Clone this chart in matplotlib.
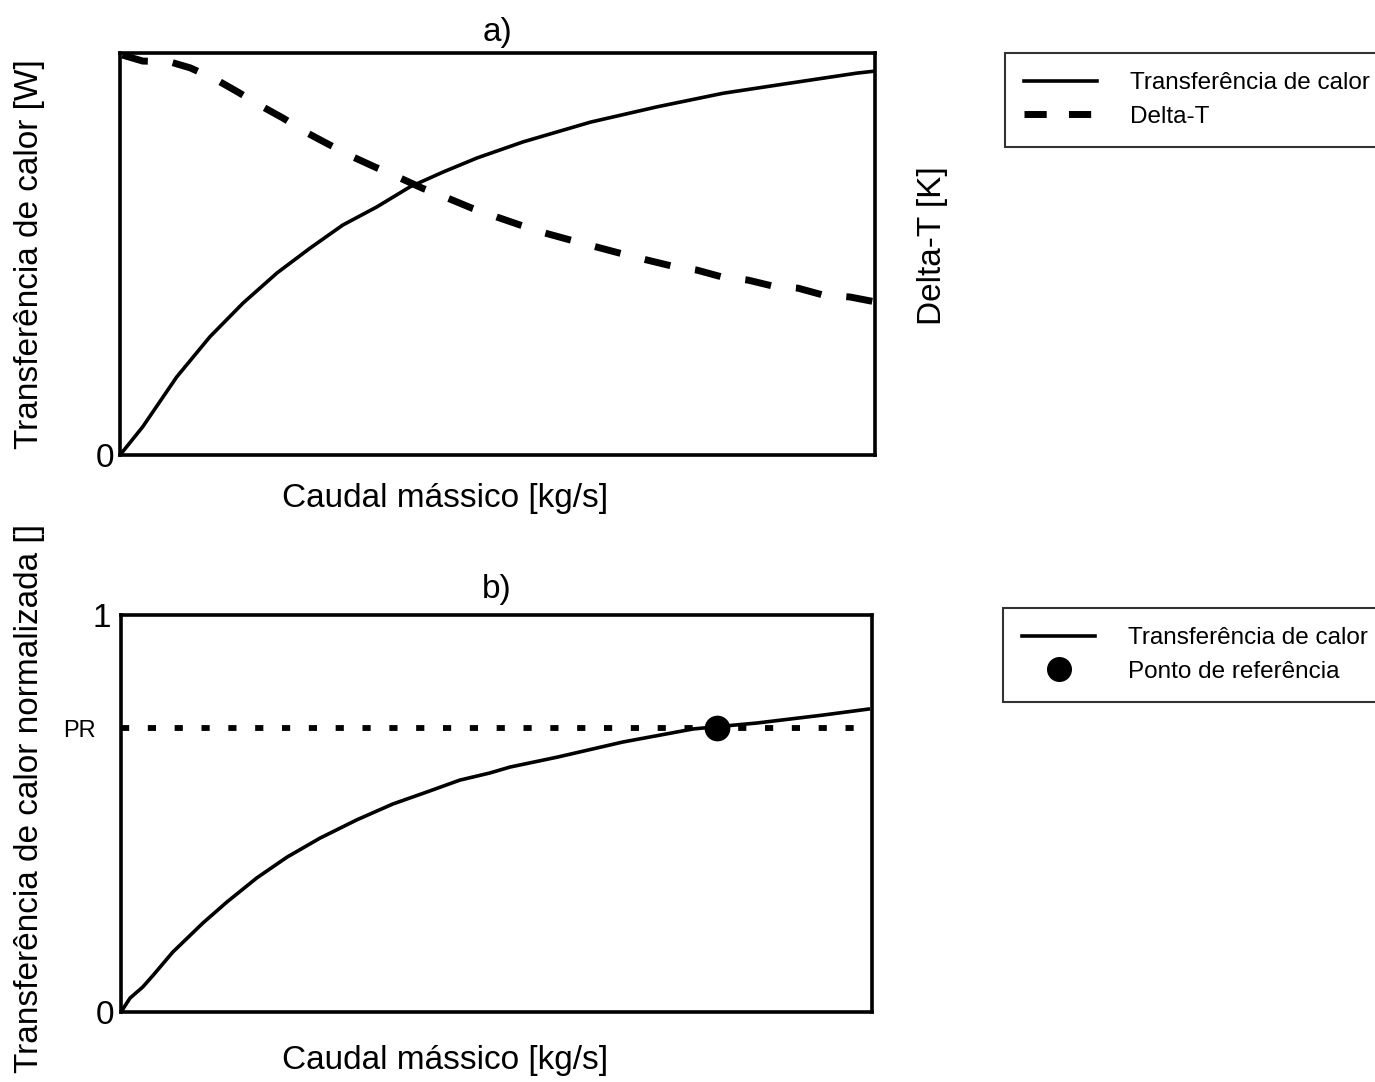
import matplotlib
matplotlib.use("Agg")
import matplotlib.pyplot as plt
from matplotlib.lines import Line2D

plt.rcParams['font.family'] = ['Liberation Sans', 'DejaVu Sans']

# a) heat transfer and temperature difference vs. mass flow (normalised units)
flow_a = [0.0, 0.030, 0.075, 0.119, 0.163, 0.208, 0.252, 0.295, 0.340, 0.384,
          0.428, 0.473, 0.534, 0.623, 0.711, 0.799, 0.887, 0.976, 1.0]
heat_a = [0.0, 0.070, 0.194, 0.294, 0.378, 0.453, 0.515, 0.572, 0.617, 0.667,
          0.704, 0.739, 0.779, 0.828, 0.866, 0.900, 0.925, 0.950, 0.955]

flow_dt = [0.003, 0.030, 0.066, 0.093, 0.128, 0.156, 0.189, 0.216, 0.248, 0.275,
           0.309, 0.338, 0.371, 0.400, 0.434, 0.466, 0.499, 0.530, 0.563, 0.596,
           0.632, 0.662, 0.698, 0.731, 0.764, 0.797, 0.832, 0.865, 0.898, 0.931,
           0.967, 1.0]
delta_t = [0.995, 0.980, 0.978, 0.963, 0.933, 0.903, 0.866, 0.838, 0.801, 0.774,
           0.741, 0.716, 0.689, 0.664, 0.639, 0.614, 0.592, 0.572, 0.552, 0.535,
           0.517, 0.502, 0.485, 0.470, 0.460, 0.443, 0.435, 0.420, 0.415, 0.398,
           0.393, 0.381]

# b) normalised heat transfer with the reference point
flow_b = [0.0, 0.012, 0.029, 0.043, 0.069, 0.109, 0.141, 0.181, 0.221, 0.265,
          0.314, 0.362, 0.407, 0.451, 0.491, 0.518, 0.581, 0.668, 0.762, 0.847,
          0.935, 0.995]
heat_b = [0.0, 0.035, 0.063, 0.093, 0.151, 0.224, 0.277, 0.338, 0.390, 0.438,
          0.484, 0.524, 0.554, 0.584, 0.602, 0.617, 0.642, 0.680, 0.713, 0.728,
          0.748, 0.763]
pr_level = 0.715
pr_flow = 0.794

fig = plt.figure(figsize=(13.75, 10.82), dpi=100)
ax1 = fig.add_axes([0.0873, 0.5795, 0.5491, 0.3715])
ax2 = fig.add_axes([0.0880, 0.0647, 0.5462, 0.3669])

for ax in (ax1, ax2):
    for s in ax.spines.values():
        s.set_linewidth(2.6)
    ax.set_xlim(0, 1)
    ax.set_ylim(0, 1)
    ax.set_xticks([])
    ax.tick_params(axis='y', length=0, labelsize=24, pad=4)

# --- panel a ---
ax1.plot(flow_a, heat_a, color='k', lw=2.6)
ax1t = ax1.twinx()
ax1t.set_ylim(0, 1)
ax1t.set_yticks([])
ax1t.plot(flow_dt, delta_t, color='k', lw=5.0, dashes=(3.8, 3.6),
          solid_capstyle='butt', dash_capstyle='butt')
ax1.set_yticks([0])
ax1.set_yticklabels(['0'])
ax1.set_title('a)', fontsize=24, pad=9)
ax1.set_ylabel('Transferência de calor [W]', fontsize=24)
ax1.yaxis.set_label_coords(-0.100, 0.5)
ax1.set_xlabel('Caudal mássico [kg/s]', fontsize=24)
ax1.xaxis.set_label_coords(0.43, -0.07)
ax1t.set_ylabel('Delta-T [K]', fontsize=24)
ax1t.yaxis.set_label_coords(1.056, 0.52)

legend_kw = dict(loc='upper left', fontsize=17.5, handlelength=3.0,
                 handletextpad=1.35, borderpad=0.8, labelspacing=0.47,
                 fancybox=False, edgecolor='#333333', framealpha=1,
                 borderaxespad=0)

h1 = [Line2D([], [], color='k', lw=2.6),
      Line2D([], [], color='k', lw=5, dashes=(3.2, 3.2), dash_capstyle='butt')]
leg1 = fig.legend(h1, ['Transferência de calor', 'Delta-T'],
                  bbox_to_anchor=(1005 / 1375, 1 - 53 / 1082), **legend_kw)
leg1.get_frame().set_linewidth(1.5)

# --- panel b ---
ax2.axhline(pr_level, color='k', lw=4.2, dashes=(1.4, 3.2), dash_capstyle='butt',
            xmax=0.985)
ax2.plot(flow_b, heat_b, color='k', lw=2.6)
ax2.plot([pr_flow], [pr_level], 'o', color='k', ms=17.5)
ax2.set_yticks([0, pr_level, 1])
ax2.set_yticklabels(['0', 'PR', '1'])
ax2.get_yticklabels()[1].set_fontsize(17)
ticks = ax2.yaxis.get_major_ticks()
ticks[0].set_pad(5)
ticks[1].set_pad(18)
ticks[2].set_pad(7)
ax2.set_title('b)', fontsize=24, pad=12)
ax2.set_ylabel('Transferência de calor normalizada []', fontsize=24)
ax2.yaxis.set_label_coords(-0.101, 0.539)
ax2.set_xlabel('Caudal mássico [kg/s]', fontsize=24)
ax2.xaxis.set_label_coords(0.431, -0.083)

h2 = [Line2D([], [], color='k', lw=2.6),
      Line2D([], [], color='k', ls='none', marker='o', ms=17)]
leg2 = fig.legend(h2, ['Transferência de calor', 'Ponto de referência'],
                  bbox_to_anchor=(1003 / 1375, 1 - 608 / 1082), **legend_kw)
leg2.get_frame().set_linewidth(1.5)

fig.savefig('out.png', dpi=100)
